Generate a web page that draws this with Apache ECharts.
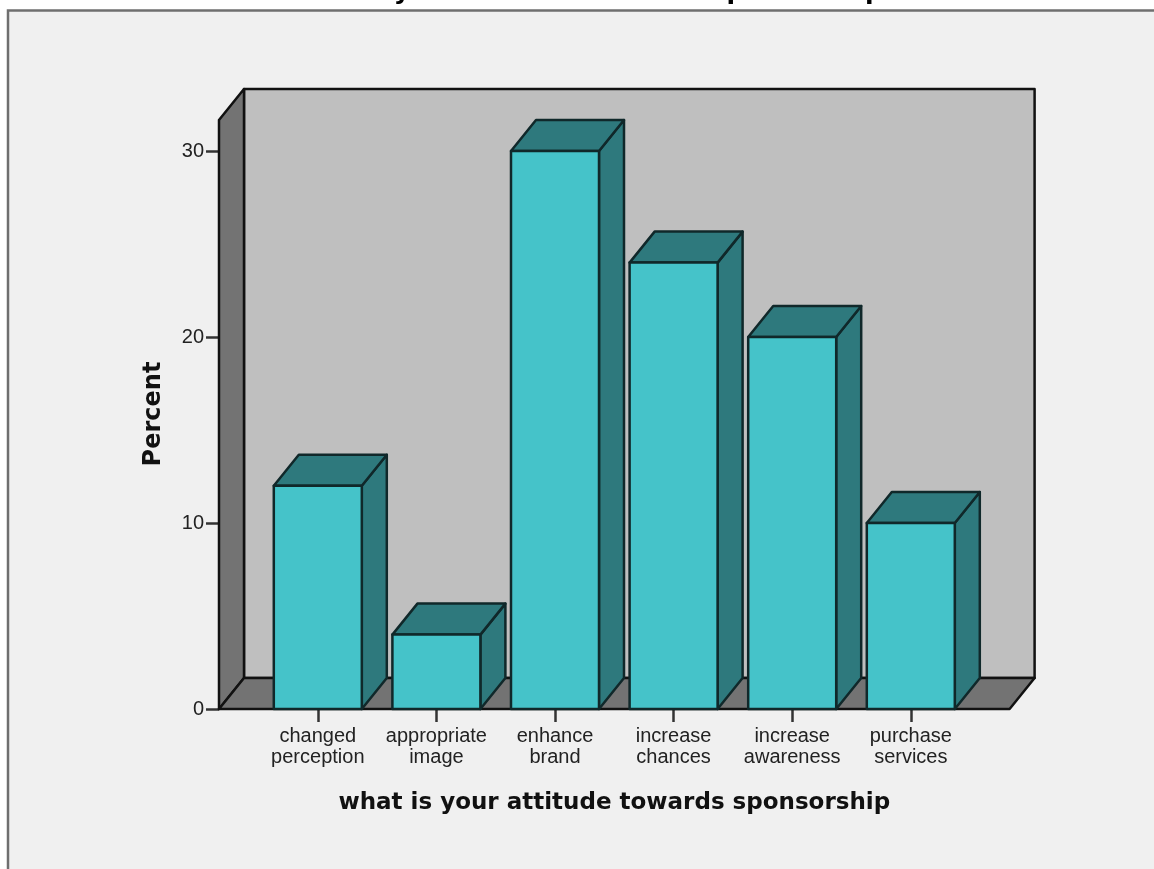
<!DOCTYPE html>
<html><head><meta charset="utf-8">
<style>html,body{margin:0;padding:0;background:#fff}#c{width:1154px;height:869px}</style>
<script src="https://cdn.jsdelivr.net/npm/echarts@6/dist/echarts.min.js"></script>
</head><body><div id="c"></div>
<script>
const categories = ['changed\nperception','appropriate\nimage','enhance\nbrand','increase\nchances','increase\nawareness','purchase\nservices'];
const percentValues = [12, 4, 30, 24, 20, 10];
const yTicks = [0, 10, 20, 30];
const chartTitle = 'what is your attitude towards sponsorship';
const xTitle = 'what is your attitude towards sponsorship';
const yTitle = 'Percent';

const DX = 25, DY = -31, EDGE = '#10282a';
const chart = echarts.init(document.getElementById('c'), null, {renderer:'canvas'});

function wallItem(params, api) {
  const g = params.coordSys;
  const L = g.x - 39.5, R = g.x + g.width + 39.5;
  const y0 = api.coord([0, 0])[1];
  const yt = y0 - 589;
  const ls = {stroke:'#111', lineWidth:2.5, lineJoin:'round'};
  const poly = (pts, fill) => ({type:'polygon', shape:{points:pts}, style:{fill, ...ls}});
  return {type:'group', children:[
    poly([[L+DX,yt+DY],[R+DX,yt+DY],[R+DX,y0+DY],[L+DX,y0+DY]], '#bfbfbf'),
    poly([[L,yt],[L+DX,yt+DY],[L+DX,y0+DY],[L,y0]], '#737373'),
    poly([[L,y0],[L+DX,y0+DY],[R+DX,y0+DY],[R,y0]], '#737373')
  ]};
}
function barItem(params, api) {
  const idx = api.value(0), val = api.value(1);
  const c = api.coord([idx, val]), b = api.coord([idx, 0]);
  const w = api.size([1, 0])[0] * 0.742;
  const l = c[0] - w/2, r = c[0] + w/2, t = c[1], y0 = b[1];
  const ls = {stroke:EDGE, lineWidth:2.5, lineJoin:'round'};
  const poly = (pts, fill) => ({type:'polygon', shape:{points:pts}, style:{fill, ...ls}});
  return {type:'group', children:[
    poly([[r,t],[r+DX,t+DY],[r+DX,y0+DY],[r,y0]], '#2e797d'),
    poly([[l,t],[l+DX,t+DY],[r+DX,t+DY],[r,t]], '#2e797d'),
    poly([[l,t],[r,t],[r,y0],[l,y0]], '#45c3c9')
  ]};
}

chart.setOption({
  animation:false,
  backgroundColor:'#ffffff',
  textStyle:{fontFamily:'Liberation Sans'},
  graphic:[{type:'rect', z:-10, silent:true, shape:{x:8,y:10.5,width:1170,height:880},
    style:{fill:'#f0f0f0', stroke:'#6f6f6f', lineWidth:2.5}}],
  title:{text:chartTitle, left:578, textAlign:'center', top:-25.5,
    textStyle:{fontFamily:'DejaVu Sans', fontWeight:'bold', fontSize:25, color:'#000'}},
  grid:{left:258.5, top:151, width:711.6, height:558, containLabel:false},
  xAxis:{type:'category', data:categories,
    name:xTitle, nameLocation:'middle', nameGap:83,
    nameTextStyle:{fontFamily:'DejaVu Sans', fontWeight:'bold', fontSize:23, color:'#111'},
    axisLine:{show:false},
    axisTick:{show:true, alignWithLabel:true, length:13, lineStyle:{color:'#333', width:2.5}},
    axisLabel:{interval:0, margin:17, fontFamily:'Liberation Sans', fontSize:20, lineHeight:21, color:'#222'}},
  yAxis:{type:'value', min:0, max:30, interval:10, offset:39.5,
    name:yTitle, nameLocation:'middle', nameGap:53, nameRotate:90,
    nameTextStyle:{fontFamily:'DejaVu Sans', fontWeight:'bold', fontSize:24, color:'#111', padding:[0,0,0,32]},
    axisLine:{show:false}, splitLine:{show:false},
    axisTick:{show:true, length:13, lineStyle:{color:'#333', width:2.5}},
    axisLabel:{margin:15, fontFamily:'Liberation Sans', fontSize:20, color:'#222',
      customValues:yTicks}},
  series:[
    {type:'custom', coordinateSystem:'cartesian2d', clip:false, silent:true, z:1,
      encode:{x:0,y:1}, data:[[0,0]], renderItem:wallItem},
    {type:'custom', coordinateSystem:'cartesian2d', clip:false, z:2,
      encode:{x:0,y:1}, data:percentValues.map((v,i)=>[i,v]), renderItem:barItem}
  ]
});
</script></body></html>
